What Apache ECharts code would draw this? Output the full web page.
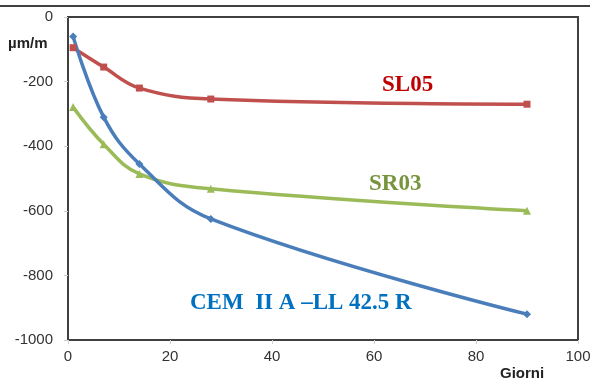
<!DOCTYPE html>
<html><head><meta charset="utf-8">
<script src="https://cdn.jsdelivr.net/npm/echarts@6/dist/echarts.min.js"></script>
<style>html,body{margin:0;padding:0;background:#fff}#c{width:595px;height:383px}</style>
</head><body><div id="c"></div>
<script>
const days = [1, 7, 14, 28, 90];
const cemValues = [-60, -310, -455, -625, -920];
const sl05Values = [-95, -155, -220, -254, -270];
const sr03Values = [-279, -394, -486, -532, -600];
const yTicks = [0, -200, -400, -600, -800, -1000];
const xTicks = [0, 20, 40, 60, 80, 100];

const pairs = v => days.map((d, i) => [d, v[i]]);
const chart = echarts.init(document.getElementById('c'));
const sans = 'Liberation Sans, Arial, sans-serif';
const serif = 'Liberation Serif, Times New Roman, serif';
chart.setOption({
  animation: false,
  grid: {left: 68, right: 17, top: 17, bottom: 43, show: true, borderColor: '#404040', borderWidth: 2, backgroundColor: '#fff'},
  xAxis: {type: 'value', min: xTicks[0], max: xTicks[xTicks.length - 1], interval: 20,
    axisLine: {show: true, onZero: false, lineStyle: {color: '#404040', width: 2}},
    axisTick: {show: true, length: 4, lineStyle: {color: '#d0d0d0'}},
    splitLine: {show: false},
    axisLabel: {color: '#333', fontFamily: sans, fontSize: 15, margin: 9, formatter: v => String(v)}},
  yAxis: {type: 'value', min: yTicks[yTicks.length - 1], max: yTicks[0], interval: 200,
    axisLine: {show: true, onZero: false, lineStyle: {color: '#404040', width: 2}},
    axisTick: {show: true, length: 4, lineStyle: {color: '#d0d0d0'}},
    splitLine: {show: false},
    axisLabel: {color: '#333', fontFamily: sans, fontSize: 15, margin: 15, formatter: v => String(v)}},
  series: [
    {name: 'SL05', type: 'line', data: pairs(sl05Values), smooth: 0.4, symbol: 'rect', symbolSize: 7,
     lineStyle: {color: '#c0504d', width: 3.5}, itemStyle: {color: '#c0504d'}},
    {name: 'SR03', type: 'line', data: pairs(sr03Values), smooth: 0.4, symbol: 'triangle', symbolSize: 8,
     lineStyle: {color: '#9bbb59', width: 3.5}, itemStyle: {color: '#9bbb59'}},
    {name: 'CEM II A-LL 42.5 R', type: 'line', data: pairs(cemValues), smooth: 0.4, symbol: 'diamond', symbolSize: 8,
     lineStyle: {color: '#4a7ebb', width: 3.5}, itemStyle: {color: '#4a7ebb'}}
  ],
  graphic: [
    {type: 'line', shape: {x1: 0, y1: 6, x2: 590, y2: 6}, style: {stroke: '#000', lineWidth: 1.5}},
    {type: 'text', left: 8, top: 36, style: {text: 'µm/m', font: 'bold 15px ' + sans, fill: '#222'}},
    {type: 'text', left: 500, top: 366, style: {text: 'Giorni', font: 'bold 15px ' + sans, fill: '#222'}},
    {type: 'text', left: 382, top: 74, style: {text: 'SL05', font: 'bold 23px ' + serif, fill: '#c00000'}},
    {type: 'text', left: 369, top: 173, style: {text: 'SR03', font: 'bold 23px ' + serif, fill: '#77933c'}},
    {type: 'text', left: 190, top: 292, style: {text: 'CEM  II A \u2013LL 42.5 R', font: 'bold 23px ' + serif, fill: '#0070c0'}}
  ]
});
</script></body></html>
